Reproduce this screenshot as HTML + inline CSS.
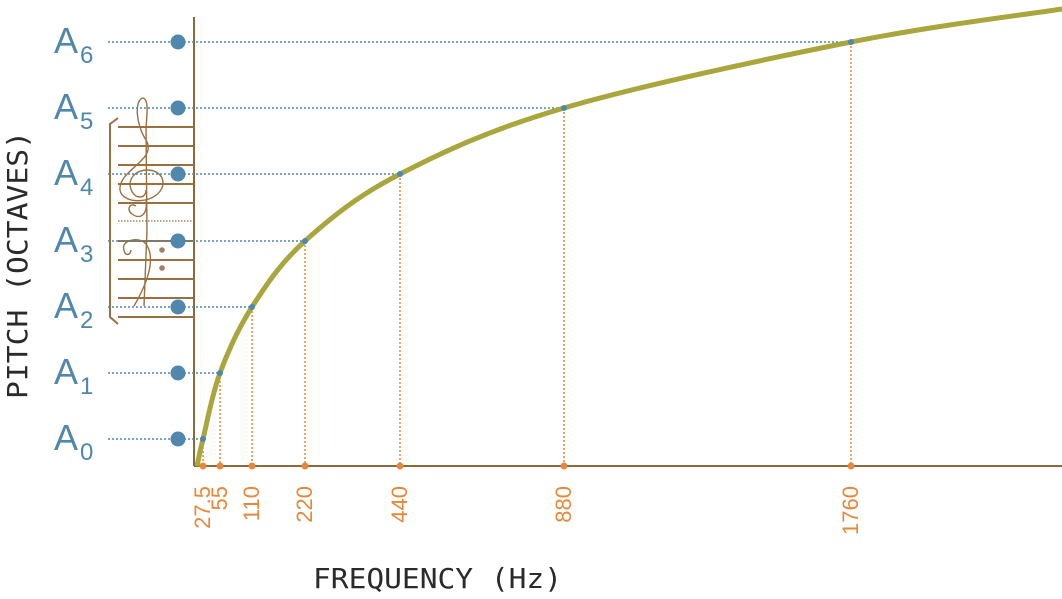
<!DOCTYPE html>
<html><head><meta charset="utf-8"><style>
html,body{margin:0;padding:0;background:#fff;}
svg{display:block;}
</style></head><body>
<svg id="s" width="1062" height="599" viewBox="0 0 1062 599" xmlns="http://www.w3.org/2000/svg">
<g id="staff" stroke="#9a7040" fill="none">
  <path d="M118 118 L110 124 L110 317 L118 324" stroke-width="2"/>
  <g stroke-width="2">
    <line x1="118" y1="127" x2="193" y2="127"/>
    <line x1="118" y1="146" x2="193" y2="146"/>
    <line x1="118" y1="165" x2="193" y2="165"/>
    <line x1="118" y1="184" x2="193" y2="184"/>
    <line x1="118" y1="203" x2="193" y2="203"/>
    <line x1="118" y1="260" x2="193" y2="260"/>
    <line x1="118" y1="279" x2="193" y2="279"/>
    <line x1="118" y1="298" x2="193" y2="298"/>
    <line x1="118" y1="317" x2="193" y2="317"/>
  </g>
  <line x1="118" y1="221" x2="193" y2="221" stroke-width="1.2" stroke-dasharray="1.5 1.5"/>
  <line x1="118" y1="241" x2="193" y2="241" stroke-width="2"/>
  <path d="M144 306 L147 230 L146 130 C146 120 150 100 143 98 C134 100 136 125 146 140 C158 160 118 170 120 190 C122 205 158 205 163 185 C165 165 130 165 130 185 C132 200 146 200 146 190 M146 200 C148 215 140 220 132 214 C126 210 130 202 136 206" stroke-width="1.4"/>
  <path d="M124 250 C120 240 140 236 146 244 C156 258 148 282 134 306" stroke-width="1.4"/>
  <path d="M124 250 C125 256 130 256 131 250" stroke-width="1.4"/>
</g>
<circle cx="162" cy="250" r="2.8" fill="#a08060"/>
<circle cx="162" cy="268" r="2.8" fill="#a08060"/>
<line x1="194" y1="17" x2="194" y2="466" stroke="#8a6a3a" stroke-width="2"/>
<line x1="194" y1="466" x2="1062" y2="466" stroke="#8a6a3a" stroke-width="2"/>
<g id="dyn"></g>
<text transform="translate(27,265) rotate(-90)" text-anchor="middle" font-family="DejaVu Sans Mono, Liberation Mono, monospace" font-size="28" fill="#2a2a2a" textLength="268" lengthAdjust="spacingAndGlyphs">PITCH (OCTAVES)</text>
<text x="313" y="588" font-family="DejaVu Sans Mono, Liberation Mono, monospace" font-size="28" fill="#2a2a2a" textLength="249" lengthAdjust="spacingAndGlyphs">FREQUENCY (Hz)</text>
</svg>
<script>
var pts=[[197,466],[203,439],[220,373],[252,307],[305,241],[400,174],[564,108],[851,42],[1062,9]];
var labs=["27.5","55","110","220","440","880","1760"];
var ns="http://www.w3.org/2000/svg",g=document.getElementById("dyn"),h="";
for(var i=0;i<7;i++){var p=pts[i+1];
 h+='<line x1="108" y1="'+p[1]+'" x2="'+p[0]+'" y2="'+p[1]+'" stroke="#4f87ad" stroke-width="1.5" stroke-dasharray="2 2"/>';
 h+='<line x1="'+p[0]+'" y1="'+p[1]+'" x2="'+p[0]+'" y2="466" stroke="#e8873a" stroke-width="1.5" stroke-dasharray="2 2"/>';
 h+='<circle cx="178" cy="'+p[1]+'" r="7.5" fill="#4f87ad"/>';
 h+='<text x="54" y="'+(p[1]+11)+'" font-family="Liberation Sans, sans-serif" font-size="36" fill="#4f87ad">A</text>';
 h+='<text x="80" y="'+(p[1]+21)+'" font-family="Liberation Sans, sans-serif" font-size="24" fill="#4f87ad">'+i+'</text>';
 h+='<text transform="translate('+(p[0]+7)+',486) rotate(-90)" text-anchor="end" font-family="Liberation Sans, sans-serif" font-size="22" fill="#e8873a">'+labs[i]+'</text>';
}
// curve via Catmull-Rom
var d="M"+pts[0][0]+" "+pts[0][1];
for(var i=0;i<pts.length-1;i++){var p0=pts[Math.max(i-1,0)],p1=pts[i],p2=pts[i+1],p3=pts[Math.min(i+2,pts.length-1)];
 var c1=[p1[0]+(p2[0]-p0[0])/6,p1[1]+(p2[1]-p0[1])/6],c2=[p2[0]-(p3[0]-p1[0])/6,p2[1]-(p3[1]-p1[1])/6];
 d+=" C"+c1[0]+" "+c1[1]+" "+c2[0]+" "+c2[1]+" "+p2[0]+" "+p2[1];}
h+='<path d="'+d+'" fill="none" stroke="#a8a63c" stroke-width="5"/>';
for(var i=0;i<7;i++){var p=pts[i+1];
 h+='<circle cx="'+p[0]+'" cy="'+p[1]+'" r="3" fill="#4f87ad"/>';
 h+='<circle cx="'+p[0]+'" cy="466" r="3.5" fill="#e8873a"/>';}
g.innerHTML=h;
</script>
</body></html>
